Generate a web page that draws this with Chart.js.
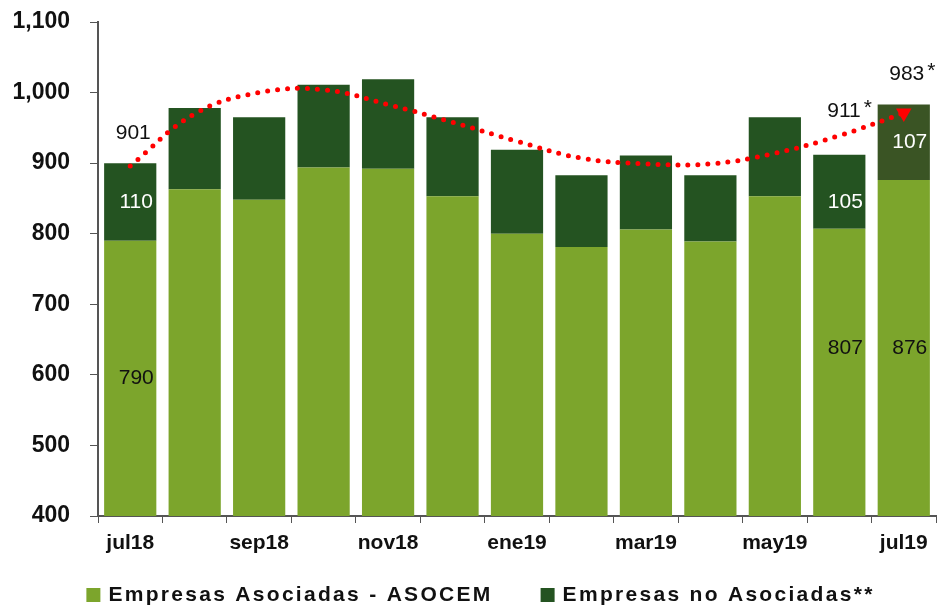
<!DOCTYPE html>
<html>
<head>
<meta charset="utf-8">
<script src="https://cdn.jsdelivr.net/npm/chart.js@4/dist/chart.umd.min.js"></script>
<style>
  html, body { margin: 0; padding: 0; background: #fff; }
  #wrap { width: 945px; height: 607px; }
</style>
</head>
<body>
<div id="wrap"><canvas id="despachos" width="945" height="607"></canvas></div>
<script>
// months shown on the category axis
const months = ['jul18', 'ago18', 'sep18', 'oct18', 'nov18', 'dic18', 'ene19',
                'feb19', 'mar19', 'abr19', 'may19', 'jun19', 'jul19'];

// thousand tonnes
const asociadas = [790, 863, 848, 894, 892, 853, 800, 781, 806, 789, 853, 807, 876];
const noAsociadas = [110, 115, 117, 117, 127, 112, 119, 102, 105, 94, 112, 105, 107];
const tendencia = [896, 970, 1000, 1004, 983, 958, 931, 907, 899, 899, 914, 939, 971];

// labels printed on the chart (null = no label)
const asocLabels = ['790', null, null, null, null, null, null, null, null, null, null, '807', '876'];
const noAsocLabels = ['110', null, null, null, null, null, null, null, null, null, null, '105', '107'];
const totalLabels = ['901', null, null, null, null, null, null, null, null, null, null, '911*', '983*'];

const yTicks = [400, 500, 600, 700, 800, 900, 1000, 1100];

const FONT = 'Arial, "Liberation Sans", sans-serif';
const LIGHT = '#7ca52c';
const DARK = '#245321';
const DARK_PRELIM = '#3a5424';

const darkColors = noAsociadas.map((v, i) => i === noAsociadas.length - 1 ? DARK_PRELIM : DARK);

// draws the value labels next to the bars
const valueLabels = {
    id: 'valueLabels',
    afterDatasetsDraw(chart) {
        const ctx = chart.ctx;
        const bottom = chart.chartArea.bottom;
        const light = chart.getDatasetMeta(0).data;
        const dark = chart.getDatasetMeta(1).data;
        const mid = b => (b.y + Math.min(b.base, bottom)) / 2;
        ctx.save();
        ctx.font = '21px ' + FONT;
        ctx.textAlign = 'center';
        ctx.textBaseline = 'middle';

        asocLabels.forEach((t, i) => {
            if (!t) return;
            let y = mid(light[i]);
            if (i === 11) y = mid(light[12]); // aligned with jul19
            ctx.fillStyle = '#111';
            ctx.fillText(t, light[i].x + 6, y);
        });

        noAsocLabels.forEach((t, i) => {
            if (!t) return;
            let y = mid(dark[i]);
            if (i === 11) y += 10;
            ctx.fillStyle = '#ffffff';
            ctx.fillText(t, dark[i].x + 6, y);
        });

        ctx.textAlign = 'left';
        totalLabels.forEach((t, i) => {
            if (!t) return;
            const b = dark[i];
            const lift = i === 11 ? 43 : 30;
            ctx.fillStyle = '#111';
            const num = t.replace('*', '');
            const w = ctx.measureText(num).width;
            let x = b.x + 3 - w / 2;
            if (i === 11) x = b.x - 12;
            ctx.fillText(num, x, b.y - lift);
            if (t.indexOf('*') >= 0) {
                ctx.fillText('*', x + w + 3, b.y - lift - 3);
            }
        });
        ctx.restore();
    }
};

// legend drawn by hand so the wide letter spacing of the original can be kept
const wideLegend = {
    id: 'wideLegend',
    afterDraw(chart) {
        const ctx = chart.ctx;
        const items = [
            { text: chart.data.datasets[0].label, color: LIGHT },
            { text: chart.data.datasets[1].label, color: DARK }
        ];
        ctx.save();
        ctx.font = 'bold 21px ' + FONT;
        ctx.letterSpacing = '2.3px';
        ctx.textBaseline = 'middle';
        ctx.fillStyle = '#111';
        const box = 14, gap = 8, between = 48;
        const widths = items.map(it => ctx.measureText(it.text).width);
        const total = widths.reduce((a, w) => a + box + gap + w, 0) + between;
        let x = (chart.width - total) / 2 + 8;
        const y = chart.height - 12;
        items.forEach((it, i) => {
            ctx.fillStyle = it.color;
            ctx.fillRect(x, y - box / 2, box, box);
            x += box + gap;
            ctx.fillStyle = '#111';
            ctx.fillText(it.text, x, y);
            x += widths[i] + between;
        });
        ctx.restore();
    }
};

const pointRadii = tendencia.map((v, i) => i === tendencia.length - 1 ? 9 : 0);

new Chart(document.getElementById('despachos'), {
    type: 'bar',
    data: {
        labels: months,
        datasets: [
            {
                label: 'Empresas Asociadas - ASOCEM',
                data: asociadas,
                backgroundColor: LIGHT,
                barPercentage: 0.81,
                categoryPercentage: 1,
                stack: 'despacho',
                order: 1
            },
            {
                label: 'Empresas no Asociadas**',
                data: noAsociadas,
                backgroundColor: darkColors,
                barPercentage: 0.81,
                categoryPercentage: 1,
                stack: 'despacho',
                order: 1
            },
            {
                type: 'line',
                label: 'Tendencia',
                data: tendencia,
                borderColor: '#ff0000',
                backgroundColor: '#ff0000',
                borderWidth: 5,
                borderDash: [0, 10],
                borderCapStyle: 'round',
                tension: 0.4,
                fill: false,
                pointRadius: pointRadii,
                pointStyle: 'triangle',
                rotation: 180,
                pointBorderWidth: 0,
                stack: 'trend',
                order: 0
            }
        ]
    },
    options: {
        responsive: false,
        animation: false,
        layout: {
            padding: { top: 22, right: 8, left: 0, bottom: 50 }
        },
        plugins: {
            legend: { display: false },
            tooltip: { enabled: false }
        },
        scales: {
            x: {
                stacked: true,
                afterFit: scale => { scale.height = 41; },
                grid: {
                    display: true,
                    offset: true,
                    drawOnChartArea: false,
                    drawTicks: true,
                    tickLength: 7,
                    color: '#555'
                },
                border: { color: '#555', width: 2 },
                ticks: {
                    autoSkip: false,
                    maxRotation: 0,
                    padding: 8,
                    color: '#111',
                    font: { family: FONT, size: 21, weight: 'bold' },
                    callback: (v, i) => i % 2 === 0 ? months[i] : ''
                }
            },
            y: {
                stacked: true,
                min: yTicks[0],
                max: yTicks[yTicks.length - 1],
                afterFit: scale => {
                    scale.width = 98;
                    scale.paddingTop = 0;
                    scale.paddingBottom = 0;
                },
                afterBuildTicks: scale => { scale.ticks = yTicks.map(v => ({ value: v })); },
                grid: {
                    drawOnChartArea: false,
                    tickLength: 8,
                    color: '#555'
                },
                border: { color: '#555', width: 2 },
                ticks: {
                    padding: 20,
                    color: '#111',
                    font: { family: FONT, size: 23, weight: 'bold' },
                    callback: v => v.toLocaleString('en-US')
                }
            }
        }
    },
    plugins: [valueLabels, wideLegend]
});
</script>
</body>
</html>
